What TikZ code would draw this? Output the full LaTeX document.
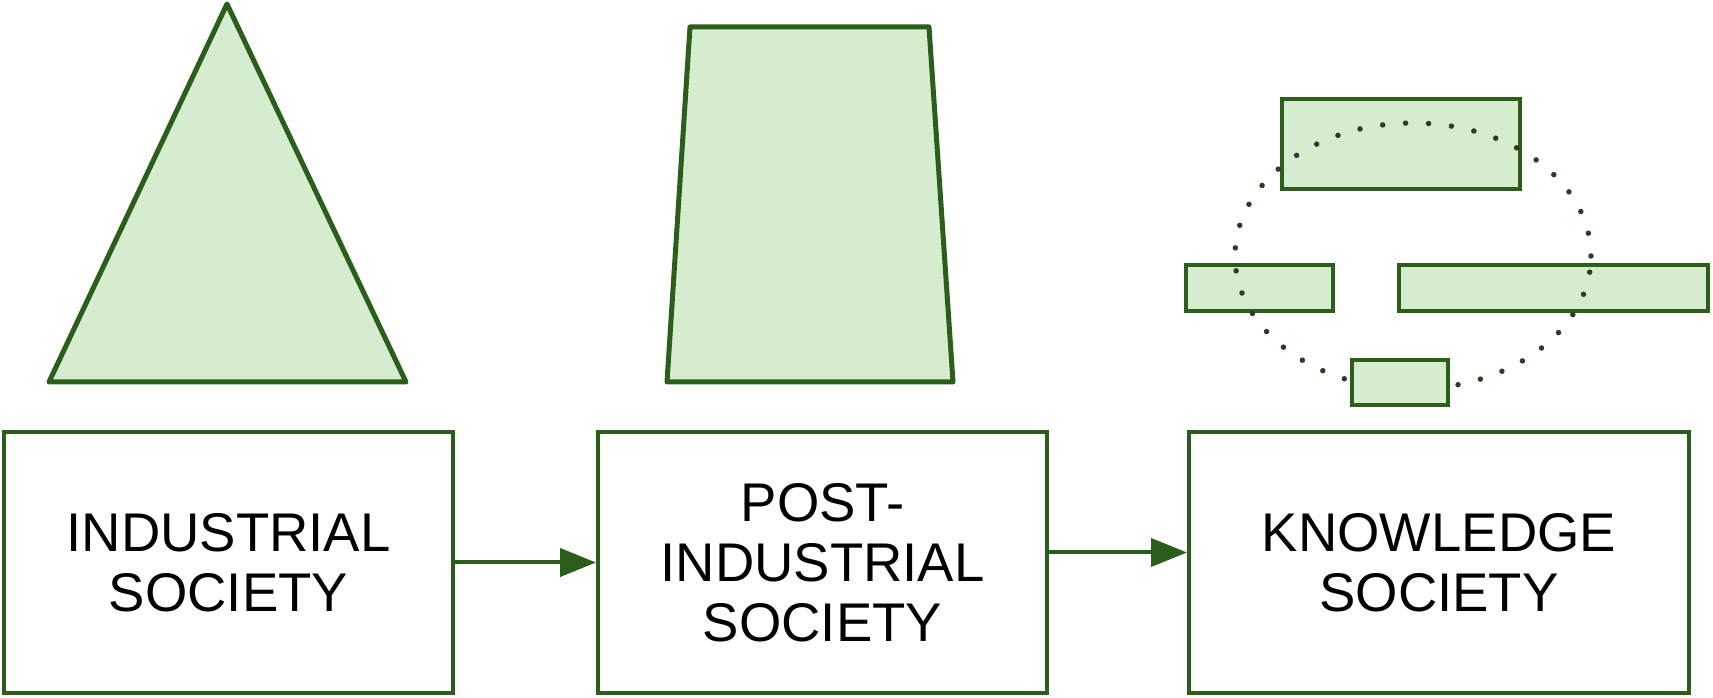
\documentclass[tikz,border=0pt]{standalone}
\usepackage{xcolor}
\usepackage{fontspec}
\setmainfont{Liberation Sans}
\usepackage{tikz}
\usetikzlibrary{arrows.meta}
\definecolor{G0}{HTML}{2b5e1a}
\definecolor{G1}{HTML}{d6ecce}
\definecolor{D0}{HTML}{2e3a2a}
\tikzset{
  shapefill/.style={draw=G0, fill=G1, line width=0.1cm, line join=round},
  partbox/.style={draw=G0, fill=G1, line width=0.09cm},
  stagebox/.style={draw=G0, line width=0.08cm, minimum width=#1, minimum height=5.22cm, align=center, text centered, font=\fontsize{31}{34}\selectfont},
  flow/.style={draw=G0, line width=0.08cm, -{Triangle[length=0.72cm, width=0.56cm]}},
}

\begin{document}
\begin{tikzpicture}%
\useasboundingbox (0,0) rectangle (34.26, 13.94);%
% shapes above the stages
\draw[shapefill] (4.54, 13.86) -- (8.12, 6.30) -- (0.98, 6.30) -- cycle;%
\draw[shapefill] (13.80, 13.40) -- (18.58, 13.40) -- (19.06, 6.30) -- (13.34, 6.30) -- cycle;%
\draw[partbox] (25.64, 11.96) rectangle (30.40, 10.16);%
\draw[partbox] (23.72, 8.64) rectangle (26.66, 7.72);%
\draw[partbox] (27.98, 8.64) rectangle (34.16, 7.72);%
\draw[D0, line width=0.11cm, line cap=round, dash pattern=on 0pt off 0.46cm] (28.26, 8.82) ellipse (3.56cm and 2.66cm);%
\draw[partbox] (27.04, 6.74) rectangle (28.96, 5.84);%
% stages
\node[stagebox=8.98cm] (ind) at (4.57, 2.69) {INDUSTRIAL\\SOCIETY};%
\node[stagebox=8.98cm] (post) at (16.45, 2.69) {POST-\\INDUSTRIAL\\SOCIETY};%
\node[stagebox=10.00cm] (know) at (28.78, 2.69) {KNOWLEDGE\\SOCIETY};%
\draw[flow] (ind.east) -- (post.west);%
\draw[flow] ([yshift=0.2cm]post.east) -- ([yshift=0.2cm]know.west);%
\end{tikzpicture}
\end{document}
